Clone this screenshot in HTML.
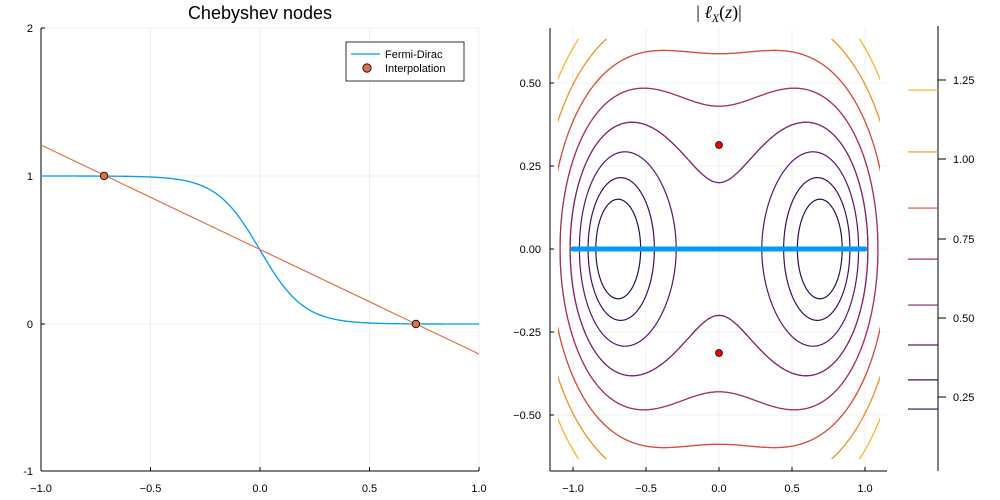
<!DOCTYPE html>
<html><head><meta charset="utf-8"><style>
html,body{margin:0;background:#fff;overflow:hidden;width:1000px;height:500px}
svg{display:block;font-family:"Liberation Sans",sans-serif}
</style></head><body>
<svg id="s" width="1000" height="500" viewBox="0 0 1000 500" xmlns="http://www.w3.org/2000/svg">
<defs><clipPath id="cl"><rect x="41" y="28" width="438" height="443"/></clipPath>
<clipPath id="cr"><rect x="558" y="39" width="322" height="420"/></clipPath></defs>
<rect width="1000" height="500" fill="#fff"/>
<g stroke="#000" stroke-opacity="0.1" stroke-width="0.6">
<line x1="41" y1="28" x2="41" y2="471"/><line x1="150.5" y1="28" x2="150.5" y2="471"/><line x1="260" y1="28" x2="260" y2="471"/><line x1="369.5" y1="28" x2="369.5" y2="471"/><line x1="479" y1="28" x2="479" y2="471"/>
<line x1="41" y1="28" x2="479" y2="28"/><line x1="41" y1="176" x2="479" y2="176"/><line x1="41" y1="324" x2="479" y2="324"/>
</g>
<g stroke="#000" stroke-width="1"><line x1="41" y1="28" x2="41" y2="471"/><line x1="41" y1="471" x2="479" y2="471"/></g>
<g stroke="#000" stroke-width="1">
<line x1="41" y1="28" x2="45" y2="28"/><line x1="41" y1="176" x2="45" y2="176"/><line x1="41" y1="324" x2="45" y2="324"/><line x1="41" y1="471" x2="45" y2="471"/>
<line x1="150.5" y1="471" x2="150.5" y2="467"/><line x1="260" y1="471" x2="260" y2="467"/><line x1="369.5" y1="471" x2="369.5" y2="467"/><line x1="479" y1="471" x2="479" y2="467"/>
</g>
<g font-size="11" fill="#000" text-anchor="end">
<text x="33" y="32">2</text><text x="33" y="180">1</text><text x="33" y="328">0</text><text x="33" y="475">-1</text>
</g>
<g font-size="11" fill="#000" text-anchor="middle">
<text x="41" y="492">−1.0</text><text x="150.5" y="492">−0.5</text><text x="260" y="492">0.0</text><text x="369.5" y="492">0.5</text><text x="479" y="492">1.0</text>
</g>
<text x="260" y="19" font-size="18" text-anchor="middle">Chebyshev nodes</text>
<g clip-path="url(#cl)">
<path id="fd" fill="none" stroke="#009af9" stroke-width="1.3"/>
<line x1="41" y1="145" x2="479" y2="354" stroke="#e26f46" stroke-width="1.2"/>
</g>
<circle cx="104.1" cy="175.9" r="3.8" fill="#e26f46" stroke="#000" stroke-width="0.8"/>
<circle cx="415.9" cy="324" r="3.8" fill="#e26f46" stroke="#000" stroke-width="0.8"/>
<rect x="346" y="42" width="118" height="39" fill="#fff" stroke="#000" stroke-width="0.8"/>
<line x1="351" y1="54" x2="380" y2="54" stroke="#009af9" stroke-width="1.3"/>
<circle cx="367" cy="68" r="4.2" fill="#e26f46" stroke="#000" stroke-width="0.8"/>
<text x="385" y="58" font-size="11">Fermi-Dirac</text>
<text x="385" y="72" font-size="11">Interpolation</text>

<g stroke="#000" stroke-opacity="0.1" stroke-width="0.6">
<line x1="573" y1="28" x2="573" y2="471"/><line x1="646" y1="28" x2="646" y2="471"/><line x1="719" y1="28" x2="719" y2="471"/><line x1="792" y1="28" x2="792" y2="471"/><line x1="865" y1="28" x2="865" y2="471"/>
<line x1="550" y1="83" x2="887" y2="83"/><line x1="550" y1="166" x2="887" y2="166"/><line x1="550" y1="249" x2="887" y2="249"/><line x1="550" y1="332" x2="887" y2="332"/><line x1="550" y1="415" x2="887" y2="415"/>
</g>
<g stroke="#000" stroke-width="1"><line x1="550" y1="28" x2="550" y2="471"/><line x1="550" y1="471" x2="887" y2="471"/>
<line x1="550" y1="83" x2="554" y2="83"/><line x1="550" y1="166" x2="554" y2="166"/><line x1="550" y1="249" x2="554" y2="249"/><line x1="550" y1="332" x2="554" y2="332"/><line x1="550" y1="415" x2="554" y2="415"/>
<line x1="573" y1="471" x2="573" y2="467"/><line x1="646" y1="471" x2="646" y2="467"/><line x1="719" y1="471" x2="719" y2="467"/><line x1="792" y1="471" x2="792" y2="467"/><line x1="865" y1="471" x2="865" y2="467"/>
</g>
<g font-size="11" fill="#000" text-anchor="end">
<text x="541" y="87">0.50</text><text x="541" y="170">0.25</text><text x="541" y="253">0.00</text><text x="541" y="336">−0.25</text><text x="541" y="419">−0.50</text>
</g>
<g font-size="11" fill="#000" text-anchor="middle">
<text x="573" y="492">−1.0</text><text x="646" y="492">−0.5</text><text x="719" y="492">0.0</text><text x="792" y="492">0.5</text><text x="865" y="492">1.0</text>
</g>
<text x="719" y="18" font-size="18" text-anchor="middle" font-family="Liberation Serif,serif">| <tspan font-style="italic">ℓ</tspan><tspan font-style="italic" font-size="12" dy="4">X</tspan><tspan dy="-4">(</tspan><tspan font-style="italic">z</tspan>)|</text>
<g id="cont" clip-path="url(#cr)" fill="none" stroke-width="1.2"></g>
<line x1="573" y1="249" x2="865" y2="249" stroke="#009af9" stroke-width="5" stroke-linecap="round"/>
<circle cx="719" cy="145" r="3.5" fill="#e00" stroke="#000" stroke-width="0.7"/>
<circle cx="719" cy="353" r="3.5" fill="#e00" stroke="#000" stroke-width="0.7"/>
<line x1="938" y1="26" x2="938" y2="471" stroke="#000" stroke-width="1"/>
<g id="cb" stroke-width="1.2"></g>
<g stroke="#000" stroke-width="1">
<line x1="938" y1="80" x2="946" y2="80"/><line x1="938" y1="159" x2="946" y2="159"/><line x1="938" y1="239" x2="946" y2="239"/><line x1="938" y1="318" x2="946" y2="318"/><line x1="938" y1="397" x2="946" y2="397"/>
</g>
<g font-size="11" fill="#000">
<text x="953" y="84">1.25</text><text x="953" y="163">1.00</text><text x="953" y="243">0.75</text><text x="953" y="322">0.50</text><text x="953" y="401">0.25</text>
</g>
</svg>
<script>
(function(){
var d="";
for(var i=0;i<=400;i++){var x=-1+2*i/400;var f=1/(1+Math.exp(x/0.1));
d+=(i?"L":"M")+(260+219*x).toFixed(2)+","+(324-148*f).toFixed(2);}
document.getElementById("fd").setAttribute("d",d);
var levels=[[0.212,"#2a0d52"],[0.304,"#3d0c66"],[0.414,"#5a1470"],[0.540,"#82246e"],[0.685,"#a8305f"],[0.846,"#dc4c3c"],[1.023,"#f4922a"],[1.218,"#fbb735"]];
var g=document.getElementById("cont"),cb=document.getElementById("cb"),NS="http://www.w3.org/2000/svg";
function px(x){return 719+146*x} function py(y){return 249-332*y}
levels.forEach(function(L){
 var r=L[0],c=0.5;
 [1,-1].forEach(function(sg){
  var p="",prev=null,N=1600;
  for(var k=0;k<=N;k++){var t=4*Math.PI*k/N;
   var re=c+r*Math.cos(t),im=r*Math.sin(t);
   var m=Math.sqrt(re*re+im*im);var a=Math.sqrt((m+re)/2),b=Math.sign(im||1)*Math.sqrt(Math.max(0,(m-re)/2));
   if(prev){ if((a-prev[0])*(a-prev[0])+(b-prev[1])*(b-prev[1])>((-a-prev[0])*(-a-prev[0])+(-b-prev[1])*(-b-prev[1]))){a=-a;b=-b;} }
   else {a*=sg;b*=sg;}
   prev=[a,b];
   p+=(k?"L":"M")+px(a).toFixed(2)+","+py(b).toFixed(2);}
  var e=document.createElementNS(NS,"path");e.setAttribute("d",p);e.setAttribute("stroke",L[1]);g.appendChild(e);
 });
 var yy=397-(r-0.25)*317;var l=document.createElementNS(NS,"line");
 l.setAttribute("x1",908);l.setAttribute("x2",938);l.setAttribute("y1",yy);l.setAttribute("y2",yy);l.setAttribute("stroke",L[1]);cb.appendChild(l);
});
})();
</script>
</body></html>
